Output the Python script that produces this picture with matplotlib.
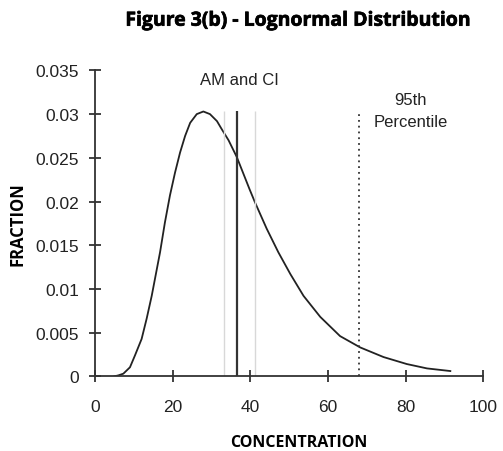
import matplotlib.pyplot as plt
import matplotlib.patheffects as pe

plt.rcParams["font.family"] = ["Liberation Sans", "DejaVu Sans"]

# curve
conc = [5, 6, 7.3, 9, 10.3, 12, 13.3, 14.6, 16.75, 18.0, 19.3, 20.6, 21.9, 23.2, 24.5,
        26.2, 27.9, 29.6, 31.4, 32.6, 34.4, 36.5, 39.8, 41.2, 44.2, 47.2, 50.3, 53.7,
        58.0, 63.1, 68.3, 74.3, 80.3, 85.5, 91.5]
frac = [0, 0.0001, 0.0003, 0.00103, 0.0024, 0.00427, 0.0066, 0.0092, 0.0142, 0.0176,
        0.0207, 0.0233, 0.0256, 0.0275, 0.0290, 0.0300, 0.0303, 0.0300, 0.0292, 0.0283,
        0.0270, 0.0251, 0.0214, 0.0199, 0.0169, 0.0142, 0.0117, 0.0092, 0.0068, 0.0046,
        0.0033, 0.0022, 0.0014, 0.0009, 0.0006]
am = 36.5
ci = [33.1, 41.2]
p95 = 68.0
line_top = 0.0303

fig = plt.figure(figsize=(5.03, 4.52), dpi=100)
ax = fig.add_axes([0.1889, 0.1653, 0.772, 0.6767])

ax.plot(conc, frac, color="#222222", lw=1.3)
ax.vlines(ci, 0, line_top, color="#d8d8d8", lw=1.0)
ax.vlines(am, 0, line_top, color="#333333", lw=1.6)
ax.vlines(p95, 0, line_top, color="#333333", lw=1.3, linestyles=(0, (1, 2.2)))

ax.text(37.3, 0.0340, "AM and CI", ha="center", va="center", fontsize=12, color="#222222")
ax.text(81.2, 0.0304, "95th\nPercentile", ha="center", va="center", fontsize=12,
        color="#222222", linespacing=1.6)

ax.set_xlim(0, 100)
ax.set_ylim(0, 0.035)
ax.set_xticks(range(0, 101, 20))
ax.set_yticks([0, 0.005, 0.01, 0.015, 0.02, 0.025, 0.03, 0.035])
ax.set_yticklabels(["0", "0.005", "0.01", "0.015", "0.02", "0.025", "0.03", "0.035"])
for s in ["top", "right"]:
    ax.spines[s].set_visible(False)
for s in ["left", "bottom"]:
    ax.spines[s].set_color("#333333")
    ax.spines[s].set_linewidth(1.3)
ax.tick_params(direction="inout", length=9, width=1.3, color="#333333",
               labelsize=12.5, labelcolor="#222222")
ax.tick_params(axis="y", pad=7)
ax.tick_params(axis="x", pad=12)

# title is set in a very heavy face, a thin stroke thickens it
fig.text(0.594, 0.952, "Figure 3(b) - Lognormal Distribution", ha="center", va="center",
         fontsize=14, fontweight="bold", family=["Open Sans", "DejaVu Sans"],
         path_effects=[pe.withStroke(linewidth=0.5, foreground="black")])
fig.text(0.594, 0.021, "CONCENTRATION", ha="center", va="center",
         fontsize=11.5, fontweight="bold", family=["Open Sans", "DejaVu Sans"])
fig.text(0.035, 0.505, "FRACTION", ha="center", va="center", rotation=90,
         fontsize=12, fontweight="bold", family=["Open Sans", "DejaVu Sans"])

fig.savefig("out.png", dpi=100)
